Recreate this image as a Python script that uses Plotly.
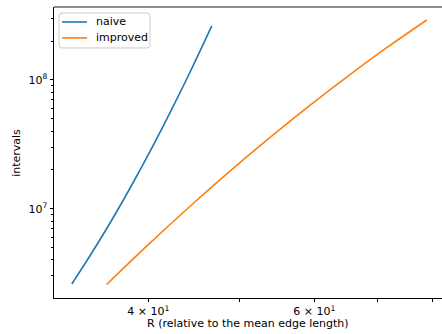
import plotly.graph_objects as go

# Radius (relative to mean edge length) and number of intervals for each method
r_naive = [33.18, 34.69, 36.43, 38.25, 40.17, 42.18, 44.30, 46.71]
intervals_naive = [2.598e6, 4.307e6, 7.734e6, 1.440e7, 2.782e7, 5.559e7, 1.151e8, 2.622e8]

r_improved = [36.13, 39.84, 43.94, 48.45, 53.42, 58.90, 64.95, 71.61, 78.98]
intervals_improved = [2.576e6, 5.110e6, 9.89e6, 1.861e7, 3.402e7, 6.066e7, 1.051e8, 1.777e8, 2.918e8]

series_names = ["naive", "improved"]
series_colors = ["#1f77b4", "#ff7f0e"]

x_major = [40, 60]
x_major_text = ["4 × 10<sup>1</sup>", "6 × 10<sup>1</sup>"]
x_minor = [50, 70, 80]

y_major = [1e7, 1e8]
y_major_text = ["10<sup>7</sup>", "10<sup>8</sup>"]
y_minor = [m * 10 ** e for e in (6, 7, 8) for m in range(2, 10) if m * 10 ** e < 3.7e8]

FONT = "DejaVu Sans"
TXT = dict(family=FONT, size=11, color="black")

fig = go.Figure()
for name, color, xs, ys in zip(series_names, series_colors,
                               [r_naive, r_improved], [intervals_naive, intervals_improved]):
    fig.add_trace(go.Scatter(x=xs, y=ys, mode="lines", name=name, showlegend=False,
                             line=dict(color=color, width=1.6, shape="spline", smoothing=1.0)))

# Legend box drawn in paper coordinates (rounded frame, two line samples, labels)
lx0, lx1, ly0, ly1 = 0.0129, 0.2474, 0.8593, 0.9794
rx, ry = 0.008, 0.010
frame = (f"M {lx0 + rx},{ly0} L {lx1 - rx},{ly0} Q {lx1},{ly0} {lx1},{ly0 + ry} "
         f"L {lx1},{ly1 - ry} Q {lx1},{ly1} {lx1 - rx},{ly1} "
         f"L {lx0 + rx},{ly1} Q {lx0},{ly1} {lx0},{ly1 - ry} "
         f"L {lx0},{ly0 + ry} Q {lx0},{ly0} {lx0 + rx},{ly0} Z")
shapes = [
    dict(type="line", xref="paper", yref="paper", x0=0, x1=1, y0=1, y1=1,
         line=dict(color="black", width=0.9)),
    dict(type="path", xref="paper", yref="paper", path=frame,
         fillcolor="rgba(255,255,255,0.8)", line=dict(color="#cccccc", width=1)),
]
annotations = [
    dict(text="R (relative to the mean edge length)", xref="paper", yref="paper",
         x=0.5, y=-0.087, xanchor="center", yanchor="middle", showarrow=False, font=TXT),
    dict(text="intervals", xref="paper", yref="paper",
         x=-0.097, y=0.5, xanchor="center", yanchor="middle", showarrow=False,
         textangle=-90, font=TXT),
]
for name, color, ly in zip(series_names, series_colors, [0.9485, 0.8937]):
    shapes.append(dict(type="line", xref="paper", yref="paper", x0=0.0206, x1=0.0851,
                       y0=ly, y1=ly, line=dict(color=color, width=1.6)))
    annotations.append(dict(text=name, xref="paper", yref="paper", x=0.1031, y=ly,
                            xanchor="left", yanchor="middle", showarrow=False, font=TXT))

fig.update_layout(
    width=442, height=334,
    margin=dict(l=54, r=0, t=7, b=35.5),
    paper_bgcolor="white", plot_bgcolor="white",
    font=TXT,
    showlegend=False,
    xaxis=dict(type="log", range=[1.50203, 1.91361],
               showgrid=False, zeroline=False,
               showline=True, linecolor="black", linewidth=0.9, mirror=False,
               tickmode="array", tickvals=x_major, ticktext=x_major_text,
               ticks="outside", ticklen=3, tickwidth=0.8, tickcolor="black",
               minor=dict(tickmode="array", tickvals=x_minor, ticks="outside",
                          ticklen=3, tickwidth=0.8, tickcolor="black", showgrid=False),
               tickfont=TXT),
    yaxis=dict(type="log", range=[6.30620, 8.56589],
               showgrid=False, zeroline=False,
               showline=True, linecolor="black", linewidth=0.9, mirror=False,
               tickmode="array", tickvals=y_major, ticktext=y_major_text,
               ticks="outside", ticklen=3.5, tickwidth=0.8, tickcolor="black",
               minor=dict(tickmode="array", tickvals=y_minor, ticks="outside",
                          ticklen=2, tickwidth=0.6, tickcolor="black", showgrid=False),
               tickfont=TXT),
    shapes=shapes,
    annotations=annotations,
)

fig.write_html("out.html")
